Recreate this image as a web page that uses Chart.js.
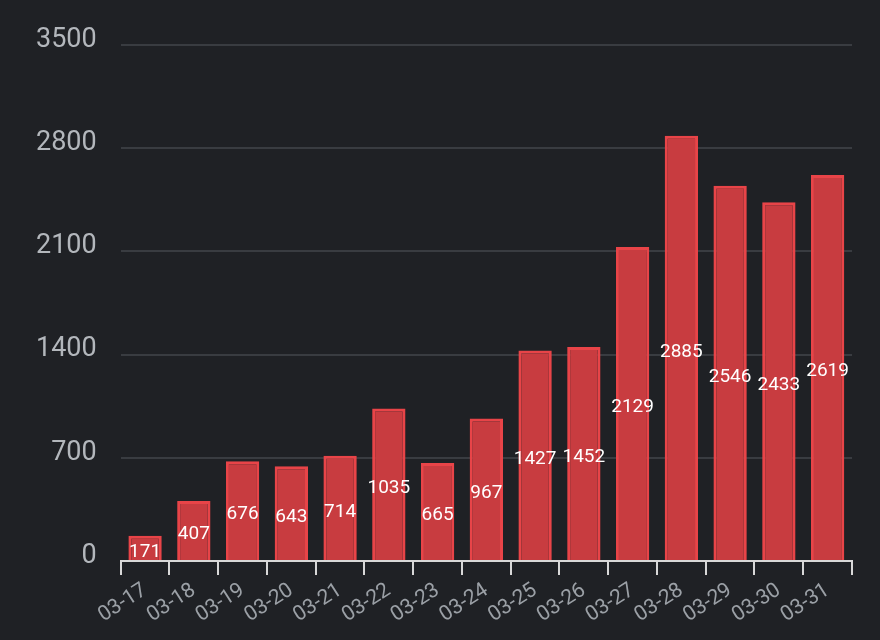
<!DOCTYPE html>
<html>
<head>
<meta charset="utf-8">
<script src="https://cdn.jsdelivr.net/npm/chart.js@4/dist/chart.umd.min.js"></script>
<style>
  html, body { margin: 0; padding: 0; background: #1f2125; }
  #wrap { width: 880px; height: 640px; }
</style>
</head>
<body>
<div id="wrap"><canvas id="DailyChart"></canvas></div>
<script>
// daily counts
const days = ['03-17', '03-18', '03-19', '03-20', '03-21', '03-22', '03-23', '03-24',
              '03-25', '03-26', '03-27', '03-28', '03-29', '03-30', '03-31'];
const counts = [171, 407, 676, 643, 714, 1035, 665, 967, 1427, 1452, 2129, 2885, 2546, 2433, 2619];
const yTicks = [0, 700, 1400, 2100, 2800, 3500];

let barFill = '#c83c40';
let barEdge = '#e84448';

// white value in the middle of each bar
const midLabels = {
    id: 'midLabels',
    afterDatasetsDraw(chart) {
        const ctx = chart.ctx;
        const meta = chart.getDatasetMeta(0);
        ctx.save();
        ctx.fillStyle = '#ffffff';
        ctx.font = '19px Roboto';
        ctx.textAlign = 'center';
        ctx.textBaseline = 'middle';
        meta.data.forEach((bar, i) => {
            const p = bar.getProps(['x', 'y', 'base'], true);
            ctx.fillText(chart.data.datasets[0].data[i], p.x, (p.y + p.base) / 2 + 4);
        });
        ctx.restore();
    }
};

var dailysales = document.getElementById('DailyChart').getContext('2d');
new Chart(dailysales, {
    type: 'bar',
    data: {
        labels: days,
        datasets: [{
            label: 'Count',
            data: counts,
            backgroundColor: barFill,
            borderColor: barEdge,
            borderWidth: 3,
            barPercentage: 0.9,
            categoryPercentage: 0.76
        }]
    },
    options: {
        responsive: true,
        maintainAspectRatio: false,
        animation: false,
        layout: { padding: { top: 45, right: 28, left: 12, bottom: 9 } },
        plugins: {
            legend: { display: false },
            tooltip: { enabled: false }
        },
        scales: {
            x: {
                grid: {
                    offset: true,
                    drawOnChartArea: false,
                    drawTicks: true,
                    tickLength: 14,
                    color: '#d8d8d8',
                    lineWidth: 2
                },
                border: { display: true, color: '#d8d8d8', width: 2 },
                ticks: {
                    color: '#9ba0a6',
                    font: { family: 'Roboto', size: 21 },
                    autoSkip: false,
                    minRotation: 33,
                    maxRotation: 33,
                    padding: 3
                }
            },
            y: {
                min: 0,
                max: 3500,
                afterBuildTicks: axis => { axis.ticks = yTicks.map(v => ({ value: v })); },
                grid: { color: '#393c41', lineWidth: 2, drawTicks: false },
                border: { display: false },
                ticks: {
                    color: '#b3b7bc',
                    font: { family: 'Roboto', size: 27 },
                    padding: 24,
                    labelOffset: -5,
                    callback: v => String(v)
                }
            }
        }
    },
    plugins: [midLabels]
});
</script>
</body>
</html>
